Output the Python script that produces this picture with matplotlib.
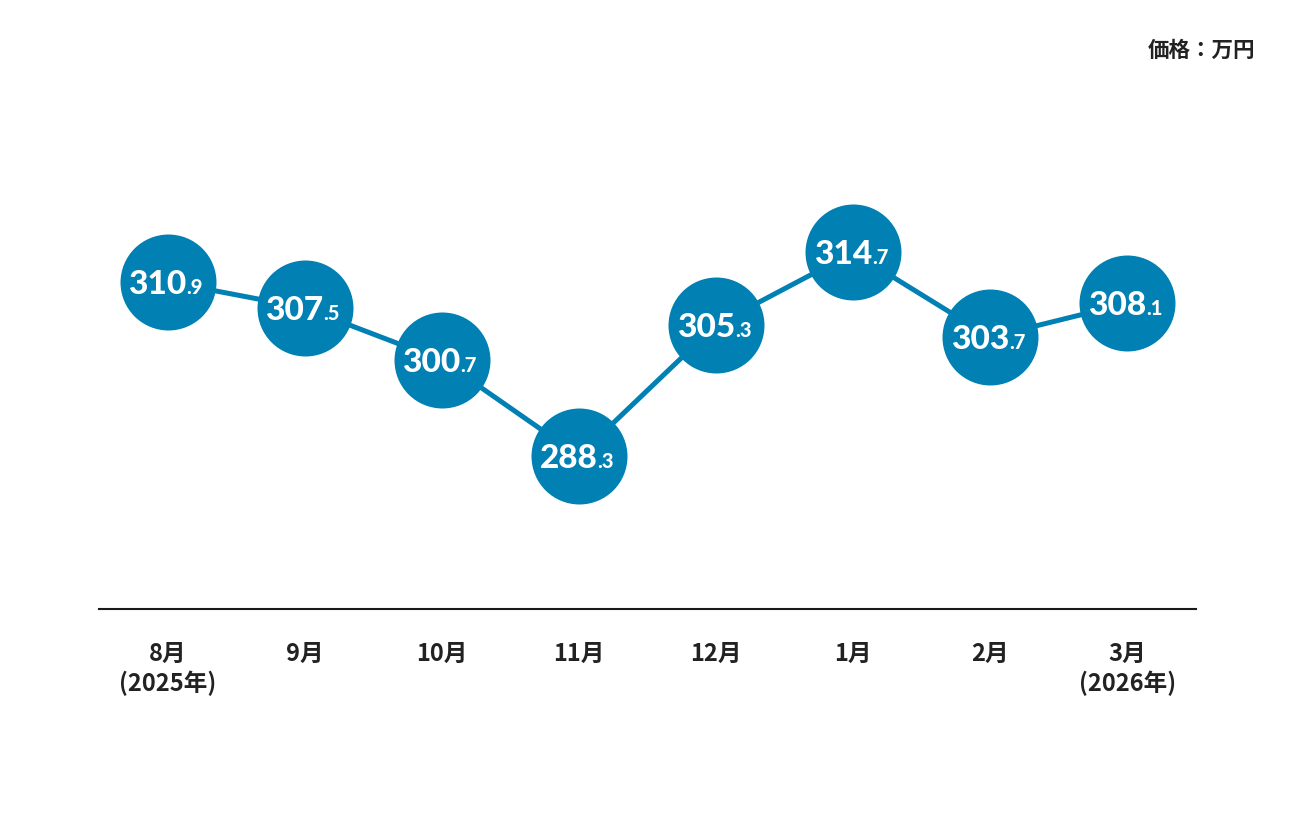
import matplotlib.pyplot as plt
import numpy as np

plt.rcParams['font.family'] = ['Noto Sans CJK JP', 'DejaVu Sans']

months = ['8月\n(2025年)', '9月', '10月', '11月', '12月', '1月', '2月', '3月\n(2026年)']
prices = [310.9, 307.5, 300.7, 288.3, 305.3, 314.7, 303.7, 308.1]

blue = '#0080B3'
x = np.arange(len(prices))

fig = plt.figure(figsize=(12.96, 8.16), dpi=100)
ax = fig.add_axes([99 / 1296, 1 - 609 / 816, (1196 - 99) / 1296, (609 - 100) / 816])

ax.plot(x, prices, color=blue, lw=3.6, zorder=1, solid_capstyle='butt')
ax.scatter(x, prices, s=4776, color=blue, zorder=2, linewidths=0)

for xi, v in zip(x, prices):
    whole, dec = f'{v:.1f}'.split('.')
    ax.annotate(whole, (xi, v), xytext=(13.5, -8.5), textcoords='offset points',
                ha='right', va='baseline', color='white', fontsize=24,
                fontfamily='Lato', fontweight='black', zorder=3)
    ax.annotate('.' + dec, (xi, v), xytext=(13.5, -8.5), textcoords='offset points',
                ha='left', va='baseline', color='white', fontsize=14.5,
                fontfamily='Lato', fontweight='black', zorder=3)

ax.set_xlim(-0.5, 7.5)
ax.set_ylim(268.4, 334.5)
ax.set_yticks([])
for s in ['top', 'right', 'left']:
    ax.spines[s].set_visible(False)
ax.spines['bottom'].set_color('#1a1a1a')
ax.spines['bottom'].set_linewidth(1.5)

ax.set_xticks(x)
ax.set_xticklabels(months, fontsize=17, fontweight='bold', color='#222222',
                   linespacing=1.2)
ax.tick_params(axis='x', length=0, pad=24)

fig.text(1255 / 1296, 1 - 50 / 816, '価格：万円', ha='right', va='center',
         fontsize=15.5, fontweight='bold', color='#222222')

fig.savefig('out.png', dpi=100)
